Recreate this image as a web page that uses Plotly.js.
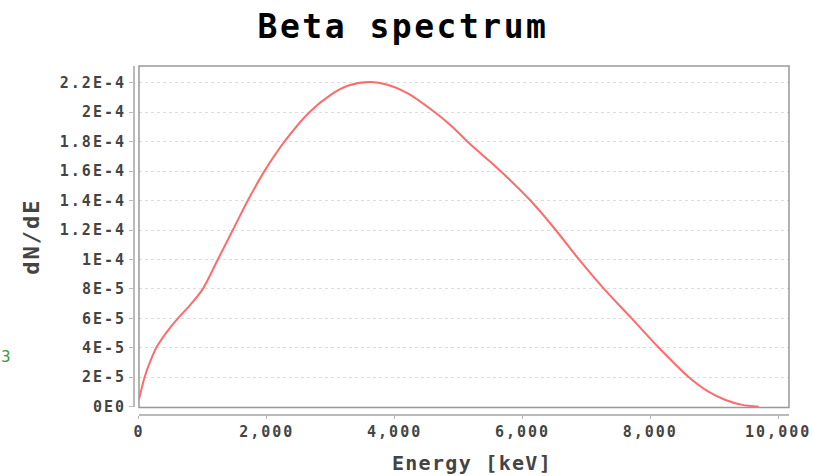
<!DOCTYPE html>
<html>
<head>
<meta charset="utf-8">
<script src="https://cdn.plot.ly/plotly-3.0.1.min.js"></script>
<style>
  html, body { margin: 0; padding: 0; background: #fff; }
  #chart { width: 813px; height: 476px; }
  .xtick text, .ytick text { letter-spacing: 2px; }
  .gtitle { letter-spacing: 2.5px; }
  .xtitle { letter-spacing: 1.3px; transform: translate(8px, 2px); }
  .ytitle { letter-spacing: 2px; }
</style>
</head>
<body>
<div id="chart"></div>
<script>
// Data
const energy = [0, 88, 170, 270, 440, 609, 800, 1000, 1234, 1469, 1703, 1963, 2276, 2666, 3005, 3265, 3604, 3900, 4200, 4567, 4880, 5141, 5348, 5609, 6125, 6520, 6884, 7275, 7708, 8134, 8603, 8916, 9177, 9437, 9697];
const dNdE = [0.5e-5, 2.0e-5, 3.0e-5, 4.0e-5, 5.1e-5, 6.0e-5, 6.9e-5, 8.0e-5, 10.0e-5, 12.0e-5, 14.0e-5, 16.0e-5, 18.0e-5, 20.0e-5, 21.2e-5, 21.8e-5, 22.05e-5, 21.85e-5, 21.3e-5, 20.2e-5, 19.1e-5, 18.0e-5, 17.2e-5, 16.2e-5, 14.0e-5, 12.0e-5, 10.0e-5, 8.0e-5, 6.0e-5, 4.0e-5, 2.0e-5, 1.0e-5, 0.45e-5, 0.12e-5, 0];

const yTickVals = [0, 2e-5, 4e-5, 6e-5, 8e-5, 1e-4, 1.2e-4, 1.4e-4, 1.6e-4, 1.8e-4, 2e-4, 2.2e-4];
const yTickText = ["0E0", "2E-5", "4E-5", "6E-5", "8E-5", "1E-4", "1.2E-4", "1.4E-4", "1.6E-4", "1.8E-4", "2E-4", "2.2E-4"];
const xTickVals = [0, 2000, 4000, 6000, 8000, 10000];
const xTickText = ["0", "2,000", "4,000", "6,000", "8,000", "10,000"];

const mono = "DejaVu Sans Mono, monospace";

const trace = {
  x: energy,
  y: dNdE,
  type: "scatter",
  mode: "lines",
  line: { color: "#ff6b6b", width: 2, shape: "spline", smoothing: 0.8 },
  hoverinfo: "x+y",
  showlegend: false
};

const layout = {
  width: 813,
  height: 476,
  margin: { l: 132.7, r: 23.7, t: 65.7, b: 61.7, pad: 0 },
  paper_bgcolor: "#ffffff",
  plot_bgcolor: "#ffffff",
  title: {
    text: "Beta spectrum",
    font: { family: mono, size: 33, color: "#000", weight: "bold" },
    x: 403 / 813, xanchor: "center", xref: "container",
    y: 1 - 26 / 476, yanchor: "middle", yref: "container"
  },
  xaxis: {
    domain: [0.0091, 1],
    anchor: "free", position: 0,
    range: [0, 10170],
    tickvals: xTickVals, ticktext: xTickText,
    ticks: "outside", ticklen: 3, tickcolor: "#bbbbbb", tickwidth: 1,
    showline: true, linecolor: "#bbbbbb", linewidth: 1.5,
    showgrid: false, zeroline: false,
    tickfont: { family: mono, size: 15, color: "#444", weight: "bold" },
    title: { text: "Energy [keV]", standoff: 14, font: { family: mono, size: 20, color: "#444", weight: "bold" } }
  },
  yaxis: {
    domain: [0.019, 1],
    anchor: "free", position: 0,
    range: [-0.05e-5, 23.14e-5],
    tickvals: yTickVals, ticktext: yTickText,
    ticks: "outside", ticklen: 4, tickcolor: "#bbbbbb", tickwidth: 1,
    showline: true, linecolor: "#bbbbbb", linewidth: 1.5,
    showgrid: true, gridcolor: "#dddddd", gridwidth: 1, griddash: "3px,3px",
    zeroline: false,
    tickfont: { family: mono, size: 15, color: "#444", weight: "bold" },
    title: { text: "dN/dE", standoff: 12, font: { family: mono, size: 22, color: "#444", weight: "bold" } }
  },
  shapes: [{
    type: "rect", xref: "x domain", yref: "y domain",
    x0: 0, x1: 1, y0: 0, y1: 1,
    line: { color: "#999999", width: 1.5 }, layer: "above"
  }],
  annotations: [{
    text: "3", xref: "paper", yref: "paper",
    x: (6 - 132.7) / 656.6, y: (414.3 - 357) / 348.6,
    xanchor: "center", yanchor: "middle", showarrow: false,
    font: { family: "DejaVu Sans, sans-serif", size: 15, color: "#3c9a3c" }
  }]
};

Plotly.newPlot("chart", [trace], layout, { displayModeBar: false, staticPlot: true });
</script>
</body>
</html>
